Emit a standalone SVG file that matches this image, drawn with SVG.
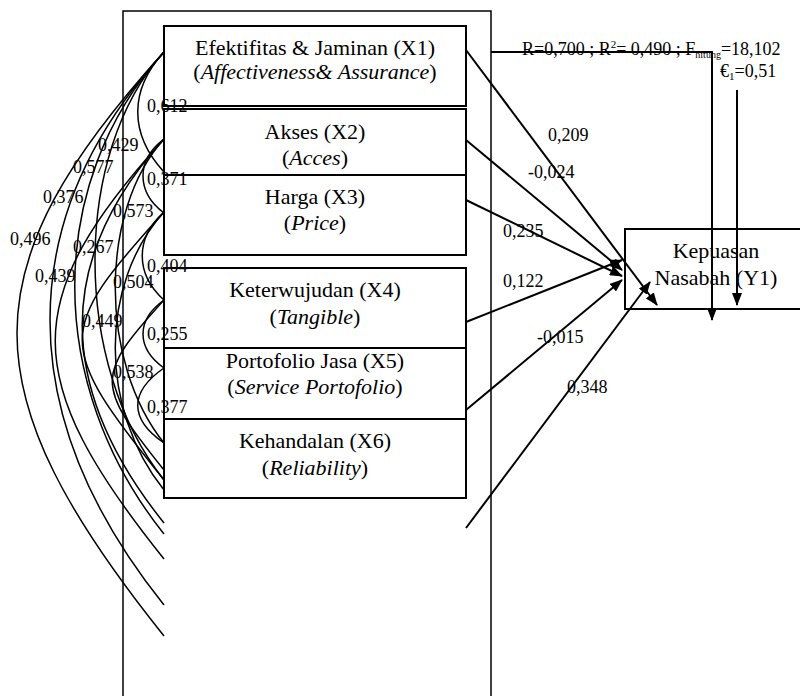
<svg xmlns="http://www.w3.org/2000/svg" width="800" height="696" viewBox="0 0 800 696">
<style>
text{font-family:"Liberation Serif","Times New Roman",serif;fill:#000}
.bt{font-size:22px;text-anchor:middle}
.lb{font-size:18px}
.box{fill:#fff;stroke:#000;stroke-width:2}
.cv{fill:none;stroke:#000;stroke-width:1.5}
.ln{fill:none;stroke:#000;stroke-width:2}
</style>
<defs>
<marker id="ah" markerUnits="userSpaceOnUse" markerWidth="13" markerHeight="10" refX="12" refY="5" orient="auto">
<path d="M0,0 L13,5 L0,10 z" fill="#000"/>
</marker>
</defs>
<rect id="frame" x="123" y="11" width="368" height="700" fill="none" stroke="#000" stroke-width="1.5"/>
<g id="correlations" class="cv">
<path class="cv" d="M164,52 C-32,268 -32,391 164,636"/>
<path class="cv" d="M164,52 C12,219 12,415 164,605"/>
<path class="cv" d="M164,52 C45,183 45,385 164,534"/>
<path class="cv" d="M164,52 C72,153 72,365 164,480"/>
<path class="cv" d="M164,52 C129,90 129,134 164,172"/>
<path class="cv" d="M164,139 C19,299 19,378 164,559"/>
<path class="cv" d="M164,139 C55,259 55,387 164,523"/>
<path class="cv" d="M164,139 C99,211 99,362 164,443"/>
<path class="cv" d="M164,139 C136,160 136,192 164,213"/>
<path class="cv" d="M164,212 C55,332 55,344 164,480"/>
<path class="cv" d="M164,212 C99,284 99,409 164,490"/>
<path class="cv" d="M164,212 C135,238 135,274 164,300"/>
<path class="cv" d="M164,300 C95,376 95,384 164,470"/>
<path class="cv" d="M164,300 C136,320 136,348 164,368"/>
<path class="cv" d="M164,368 C129,392 129,419 164,443"/>
</g>
<g id="X1"><rect class="box" x="164" y="26" width="302" height="80"/>
<text class="bt" x="315" y="55">Efektifitas &amp; Jaminan (X1)</text>
<text class="bt" x="315" y="79">(<tspan font-style="italic">Affectiveness&amp; Assurance</tspan>)</text></g>
<g id="X2"><rect class="box" x="164" y="109" width="302" height="80"/>
<text class="bt" x="315" y="139">Akses (X2)</text>
<text class="bt" x="315" y="165">(<tspan font-style="italic">Acces</tspan>)</text></g>
<g id="X3"><rect class="box" x="164" y="175" width="302" height="80"/>
<text class="bt" x="315" y="204">Harga (X3)</text>
<text class="bt" x="315" y="230">(<tspan font-style="italic">Price</tspan>)</text></g>
<g id="X4"><rect class="box" x="164" y="268" width="302" height="80"/>
<text class="bt" x="315" y="297">Keterwujudan (X4)</text>
<text class="bt" x="315" y="324">(<tspan font-style="italic">Tangible</tspan>)</text></g>
<g id="X5"><rect class="box" x="164" y="348" width="302" height="76"/>
<text class="bt" x="315" y="368">Portofolio Jasa (X5)</text>
<text class="bt" x="315" y="394">(<tspan font-style="italic">Service Portofolio</tspan>)</text></g>
<g id="X6"><rect class="box" x="164" y="419" width="302" height="79"/>
<text class="bt" x="315" y="448">Kehandalan (X6)</text>
<text class="bt" x="315" y="475">(<tspan font-style="italic">Reliability</tspan>)</text></g>
<g id="Y1"><rect class="box" x="625" y="229" width="200" height="80"/>
<text class="bt" x="716" y="258">Kepuasan</text>
<text class="bt" x="716" y="285">Nasabah (Y1)</text></g>
<g id="connectors" class="ln">
<line x1="466" y1="50" x2="657" y2="305" marker-end="url(#ah)"/>
<line x1="466" y1="140" x2="622" y2="270" marker-end="url(#ah)"/>
<line x1="466" y1="200" x2="622" y2="276" marker-end="url(#ah)"/>
<line x1="466" y1="322" x2="622" y2="260" marker-end="url(#ah)"/>
<line x1="466" y1="410" x2="622" y2="280" marker-end="url(#ah)"/>
<line x1="466" y1="528" x2="650" y2="282" marker-end="url(#ah)"/>
<polyline points="491,52 712,52 712,320" marker-end="url(#ah)"/>
<line x1="737" y1="90" x2="737" y2="305" marker-end="url(#ah)"/>
</g>
<g id="labels" class="lb">
<text class="lb" x="147" y="112">0,612</text>
<text class="lb" x="98" y="151">0,429</text>
<text class="lb" x="73" y="173">0,577</text>
<text class="lb" x="43" y="203">0,376</text>
<text class="lb" x="10" y="245">0,496</text>
<text class="lb" x="147" y="185">0,371</text>
<text class="lb" x="113" y="217">0,573</text>
<text class="lb" x="73" y="253">0,267</text>
<text class="lb" x="35" y="282">0,439</text>
<text class="lb" x="147" y="272">0,404</text>
<text class="lb" x="113" y="288">0,504</text>
<text class="lb" x="82" y="327">0,449</text>
<text class="lb" x="147" y="340">0,255</text>
<text class="lb" x="113" y="378">0,538</text>
<text class="lb" x="147" y="413">0,377</text>
<text class="lb" x="548" y="141">0,209</text>
<text class="lb" x="528" y="178">-0,024</text>
<text class="lb" x="503" y="237">0,235</text>
<text class="lb" x="503" y="287">0,122</text>
<text class="lb" x="537" y="343">-0,015</text>
<text class="lb" x="567" y="393">0,348</text>
<text class="lb" x="522" y="55">R=0,700 ; R<tspan font-size="11" dy="-7">2</tspan><tspan dy="7">= 0,490 ; F</tspan><tspan font-size="10" dy="3">hitung</tspan><tspan dy="-3">=18,102</tspan></text>
<text class="lb" x="720" y="77">€<tspan font-size="11" dy="3">1</tspan><tspan dy="-3">=0,51</tspan></text>
</g>
</svg>
